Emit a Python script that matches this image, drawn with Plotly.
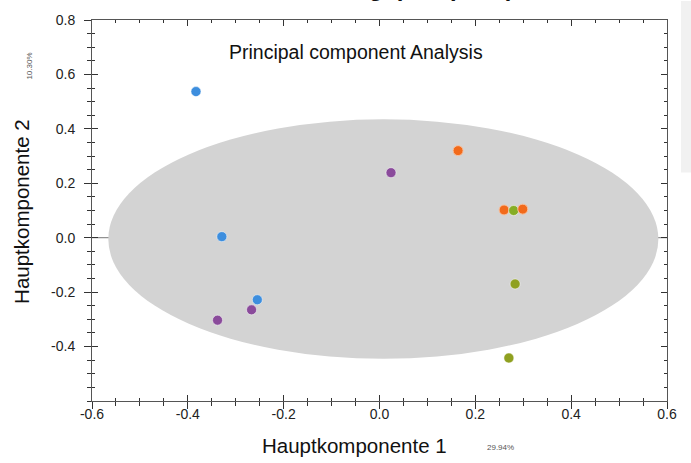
import plotly.graph_objects as go

# ---- data ----
score_x = [-0.383, -0.329, -0.255, -0.267, -0.338, 0.024, 0.164, 0.260, 0.280, 0.299, 0.283, 0.270]
score_y = [0.537, 0.004, -0.228, -0.265, -0.303, 0.239, 0.320, 0.102, 0.100, 0.105, -0.170, -0.442]
score_group = ["blue", "blue", "blue", "purple", "purple", "purple",
               "orange", "orange", "green", "orange", "olive", "olive"]
group_colors = {"blue": "#3d8ede", "purple": "#8a4b9b", "orange": "#f26a1b",
                "green": "#86ad25", "olive": "#8fa020"}

# ellipse of the (dense, unreadable) loading-label cloud: centre and semi-axes in data units
ell_cx, ell_cy, ell_a, ell_b = 0.008, -0.005, 0.574, 0.44

x_tick_vals = [-0.6, -0.4, -0.2, 0.0, 0.2, 0.4, 0.6]
x_tick_text = ["-0.6", "-0.4", "-0.2", "0.0", "0.2", "0.4", "0.6"]
y_tick_vals = [-0.4, -0.2, 0.0, 0.2, 0.4, 0.6, 0.8]
y_tick_text = ["-0.4", "-0.2", "0.0", "0.2", "0.4", "0.6", "0.8"]
x_range = [-0.6, 0.6]
y_range = [-0.6, 0.8]

fig = go.Figure()

fig.add_trace(go.Scatter(
    x=score_x, y=score_y, mode="markers",
    marker=dict(size=10, color=[group_colors[g] for g in score_group],
                line=dict(width=1, color=["#f7c2a0" if g == "orange" else "rgba(255,255,255,0.5)"
                                          for g in score_group])),
    showlegend=False))

# empty trace to make overlay axes render
fig.add_trace(go.Scatter(x=[None], y=[None], xaxis="x2", yaxis="y2", showlegend=False))

# horizontal zero line (under the cloud)
fig.add_shape(type="line", xref="x", yref="y", x0=x_range[0], x1=x_range[1], y0=0, y1=0,
              line=dict(color="#777777", width=1), layer="below")

fig.add_shape(type="circle", xref="x", yref="y",
              x0=ell_cx - ell_a, x1=ell_cx + ell_a, y0=ell_cy - ell_b, y1=ell_cy + ell_b,
              fillcolor="#d3d3d3", line=dict(width=0), layer="between")

# light grey panel at right edge
fig.add_shape(type="rect", xref="paper", yref="paper", x0=1.0243, x1=1.05, y0=0.5995, y1=1.05,
              fillcolor="#f1f1f1", line=dict(width=0), layer="below")

font_main = "Liberation Sans, Arial"
axis_common = dict(showgrid=False, showline=True, linecolor="#555555", linewidth=1,
                   tickcolor="#333333", tickwidth=1, zeroline=False)

fig.update_layout(
    width=691, height=463,
    margin=dict(l=92, r=24, t=14, b=62),
    paper_bgcolor="white", plot_bgcolor="white",
    font=dict(family=font_main, size=14, color="#222222"),
    xaxis=dict(range=x_range, tickvals=x_tick_vals, ticktext=x_tick_text,
               ticks="inside", ticklen=6, mirror="ticks",
               minor=dict(dtick=0.05, tick0=0, ticks="inside", ticklen=3, tickcolor="#333333"),
               tickfont=dict(size=14), **axis_common),
    yaxis=dict(range=y_range, tickvals=y_tick_vals, ticktext=y_tick_text,
               ticks="inside", ticklen=6, mirror="ticks", ticklabelstandoff=13,
               minor=dict(dtick=0.05, tick0=0, ticks="inside", ticklen=3, tickcolor="#333333"),
               tickfont=dict(size=14), **axis_common),
    xaxis2=dict(range=x_range, overlaying="x", anchor="y2", side="bottom",
                tickvals=x_tick_vals, showticklabels=False, ticks="outside", ticklen=7,
                minor=dict(dtick=0.05, tick0=0, ticks="outside", ticklen=4, tickcolor="#333333"),
                **axis_common),
    yaxis2=dict(range=y_range, overlaying="y", anchor="x2", side="left",
                tickvals=y_tick_vals, showticklabels=False, ticks="outside", ticklen=7,
                minor=dict(dtick=0.05, tick0=0, ticks="outside", ticklen=4, tickcolor="#333333"),
                **axis_common),
    annotations=[
        dict(text="Principal component Analysis", xref="paper", yref="paper",
             x=0.459, y=0.915, xanchor="center", yanchor="middle", showarrow=False,
             font=dict(size=19.5, color="#111111")),
        dict(text="Hauptkomponente 1", xref="paper", yref="paper",
             x=0.457, y=-0.118, xanchor="center", yanchor="middle", showarrow=False,
             font=dict(size=20.5, color="#111111")),
        dict(text="Hauptkomponente 2", xref="paper", yref="paper", textangle=-90,
             x=-0.123, y=0.497, xanchor="center", yanchor="middle", showarrow=False,
             font=dict(size=20.5, color="#111111")),
        dict(text="29.94%", xref="paper", yref="paper",
             x=0.71, y=-0.121, xanchor="center", yanchor="middle", showarrow=False,
             font=dict(size=8, color="#555555")),
        dict(text="10.30%", xref="paper", yref="paper", textangle=-90,
             x=-0.108, y=0.88, xanchor="center", yanchor="middle", showarrow=False,
             font=dict(size=8, color="#555555")),
        dict(text="<b>Loadingsplot (PCA)</b>", xref="paper", yref="paper",
             x=0.737, y=1.045, xanchor="right", yanchor="bottom", showarrow=False,
             font=dict(size=24, color="#111111")),
    ],
)

fig.write_html("out.html")
